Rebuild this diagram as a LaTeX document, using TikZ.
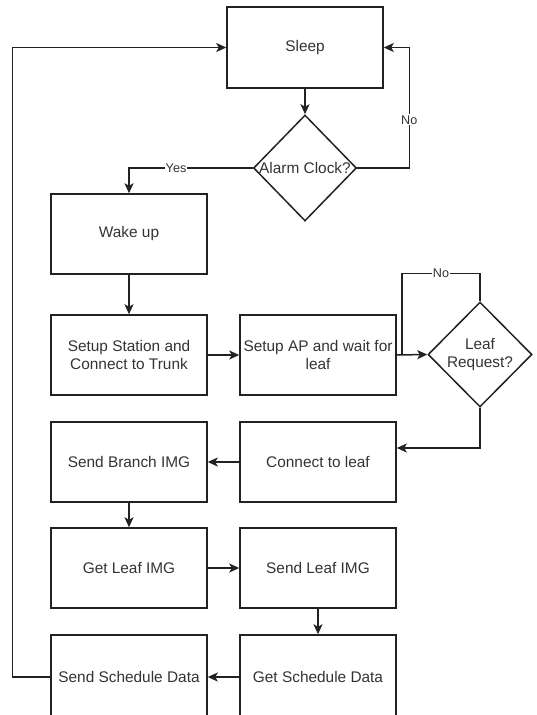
\documentclass[tikz,border=0pt]{standalone}
\usepackage{fontspec}
\setmainfont{Liberation Sans}
\usepackage{tikz}
\usetikzlibrary{shapes.geometric,arrows.meta,positioning,calc}
\definecolor{linegray}{RGB}{34, 34, 34}
\definecolor{textgray}{RGB}{51, 51, 51}

\tikzset{
    procbox/.style={draw=linegray, line width=1.5pt, minimum width=156pt, minimum height=80pt, inner sep=2pt,
        align=center, text=textgray, font=\fontsize{15.4}{18}\selectfont},
    decision/.style={draw=linegray, line width=1.5pt, diamond, inner sep=0pt},
    flow/.style={draw=linegray, line width=1.5pt, -{Stealth[length=10pt,width=9pt,inset=2.5pt]}},
    plain/.style={draw=linegray, line width=1.5pt},
    lbl/.style={fill=white, inner sep=1pt, text=textgray, font=\fontsize{12.6}{14}\selectfont},
    dtext/.style={text=textgray, align=center, font=\fontsize{15.4}{18}\selectfont}
}

\begin{document}
\begin{tikzpicture}[x=1pt, y=-1pt]
    \useasboundingbox (0,0) rectangle (537,715);

    % boxes
    \node[procbox, minimum height=81pt] (sleep) at (305,47.5) {Sleep};
    \node[decision, minimum width=103pt, minimum height=106pt] (alarm) at (305,168) {};
    \node[dtext] at (alarm) {Alarm Clock?};
    \node[procbox] (wake) at (129,234) {Wake up};
    \node[procbox] (station) at (129,355) {Setup Station and\\Connect to Trunk};
    \node[procbox] (ap) at (318,355) {Setup AP and wait for\\leaf};
    \node[decision, minimum width=104pt, minimum height=105pt] (leafreq) at (480,354.5) {};
    \node[dtext] at (leafreq) {Leaf\\Request?};
    \node[procbox] (connect) at (318,462) {Connect to leaf};
    \node[procbox] (branch) at (129,462) {Send Branch IMG};
    \node[procbox] (getleaf) at (129,568) {Get Leaf IMG};
    \node[procbox] (sendleaf) at (318,568) {Send Leaf IMG};
    \node[procbox, minimum height=84pt] (getsched) at (318,677) {Get Schedule Data};
    \node[procbox, minimum height=84pt] (sendsched) at (129,677) {Send Schedule Data};
    \coordinate (apout) at (402,355);

    % connectors
    \draw[flow] (sleep.south) -- (alarm.north);
    \draw[flow] (alarm.east) -- ++(52,0) |- node[pos=0.2,lbl] {No} (sleep.east);
    \draw[flow] (alarm.west) -| node[pos=0.31,lbl] {Yes} (wake.north);
    \draw[flow] (wake.south) -- (station.north);
    \draw[flow] (station.east) -- (ap.west);
    \draw[flow] (ap.east) -- (leafreq.west);
    \draw[plain] (leafreq.north) -- ++(0,-28) -| node[pos=0.25,lbl] {No} (apout);
    \draw[flow] (leafreq.south) |- ([yshift=14pt]connect.east);
    \draw[flow] (connect.west) -- (branch.east);
    \draw[flow] (branch.south) -- (getleaf.north);
    \draw[flow] (getleaf.east) -- (sendleaf.west);
    \draw[flow] (sendleaf.south) -- (getsched.north);
    \draw[flow] (getsched.west) -- (sendsched.east);
    \draw[flow] (sendsched.west) -- ++(-38,0) |- (sleep.west);
\end{tikzpicture}
\end{document}
